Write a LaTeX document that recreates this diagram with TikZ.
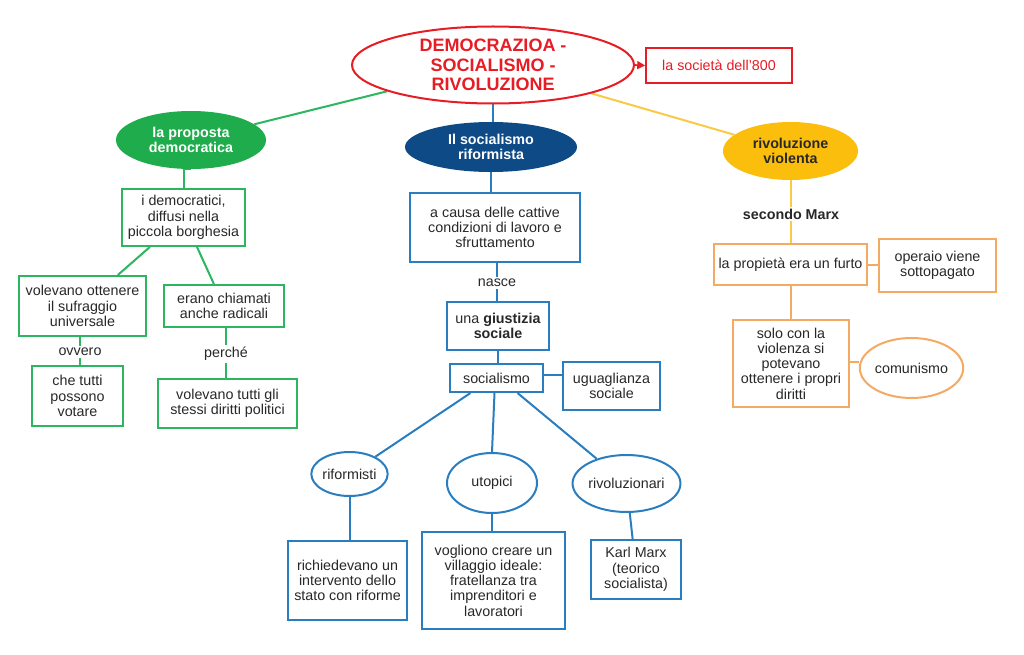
\documentclass[tikz,border=0pt]{standalone}
\usepackage{fontspec}
\setmainfont{Liberation Sans}
\usetikzlibrary{shapes.geometric,arrows.meta}
\definecolor{cred}{RGB}{232,28,36}
\definecolor{cgreenfill}{RGB}{30,172,76}
\definecolor{cgreen}{RGB}{44,182,96}
\definecolor{cnavy}{RGB}{14,74,134}
\definecolor{cblue}{RGB}{42,126,192}
\definecolor{cyellowfill}{RGB}{252,190,12}
\definecolor{cyellow}{RGB}{250,202,70}
\definecolor{corange}{RGB}{245,170,100}
\definecolor{ctext}{RGB}{40,40,40}
\pgfdeclarelayer{bg}
\pgfsetlayers{bg,main}
\begin{document}
\begin{tikzpicture}[x=1pt,y=-1pt,
  every node/.style={inner sep=0pt,align=center,text=ctext,font=\fontsize{14.3}{15.3}\selectfont},
  boxG/.style={draw=cgreen,line width=2pt,fill=white,rectangle},
  boxB/.style={draw=cblue,line width=2pt,fill=white,rectangle},
  boxO/.style={draw=corange,line width=2pt,fill=white,rectangle},
  ellB/.style={draw=cblue,line width=2pt,fill=white,ellipse},
  ellO/.style={draw=corange,line width=2pt,fill=white,ellipse},
  lnG/.style={draw=cgreen,line width=2pt},
  lnB/.style={draw=cblue,line width=2pt},
  lnY/.style={draw=cyellow,line width=2pt},
  lnO/.style={draw=corange,line width=2pt},
  lbl/.style={fill=white,inner sep=2pt},
  bfont/.style={font=\bfseries\fontsize{14.3}{15.3}\selectfont},
  wsize/.style 2 args={minimum width=#1pt,minimum height=#2pt}]
\useasboundingbox (0,0) rectangle (1024,655);

% title
\node[ellipse,draw=cred,line width=2pt,fill=white,wsize={282}{77},text=cred,
  font=\bfseries\fontsize{18}{19.5}\selectfont] (title) at (493,65)
  {DEMOCRAZIOA -\\SOCIALISMO -\\RIVOLUZIONE};
\node[rectangle,draw=cred,line width=1.6pt,fill=white,wsize={146}{35},text=cred] (soc800) at (719,65.5) {la società dell'800};

% left branch
\node[ellipse,fill=cgreenfill,wsize={150}{58},text=white,bfont] (dem) at (191,140) {la proposta\\democratica};
\node[boxG,wsize={123}{57}] (bdem) at (183.5,217.5) {i democratici,\\diffusi nella\\piccola borghesia};
\node[boxG,wsize={127}{60}] (bsuff) at (82.5,306) {volevano ottenere\\il sufraggio\\universale};
\node[boxG,wsize={120}{42}] (brad) at (224,306) {erano chiamati\\anche radicali};
\node[lbl] (lovv) at (80,352) {ovvero};
\node[boxG,wsize={91}{60}] (btutti) at (77.5,396) {che tutti\\possono\\votare};
\node[lbl] (lper) at (226,354) {perché};
\node[boxG,wsize={139}{49}] (bdir) at (227.5,403.5) {volevano tutti gli\\stessi diritti politici};

% middle branch
\node[ellipse,fill=cnavy,wsize={172}{50},text=white,bfont] (socrif) at (491,147) {Il socialismo\\riformista};
\node[boxB,wsize={170}{69}] (bcausa) at (495,227.5) {a causa delle cattive\\condizioni di lavoro e\\sfruttamento};
\node[lbl] (lnasce) at (497,283) {nasce};
\node[boxB,wsize={102}{48}] (bgiust) at (498,326) {una \textbf{giustizia}\\\textbf{sociale}};
\node[boxB,wsize={93}{28}] (bsoc) at (496.5,378) {socialismo};
\node[boxB,wsize={97}{48}] (bugu) at (611.5,386) {uguaglianza\\sociale};
\node[ellB,wsize={75}{44}] (erif) at (349.5,474) {riformisti};
\node[ellB,wsize={90}{60}] (euto) at (492,483) {utopici};
\node[ellB,wsize={91}{57}] (eriv) at (626.5,483.5) {rivoluzionari};
\node[boxB,wsize={119}{79}] (brifo) at (347.5,580.5) {richiedevano un\\intervento dello\\stato con riforme};
\node[boxB,wsize={143}{97}] (bvill) at (493.5,580.5) {vogliono creare un\\villaggio ideale:\\fratellanza tra\\imprenditori e\\lavoratori};
\node[boxB,wsize={90}{59}] (bmarx) at (636,569.5) {Karl Marx\\(teorico\\socialista)};

% right branch
\node[ellipse,fill=cyellowfill,wsize={135}{58},bfont] (yel) at (790.5,151) {rivoluzione\\violenta};
\node[lbl,bfont] (lmarx) at (791,214) {secondo Marx};
\node[boxO,wsize={153}{41}] (bfurto) at (790.5,264.5) {la propietà era un furto};
\node[boxO,wsize={117}{53}] (boper) at (937.5,265.5) {operaio viene\\sottopagato};
\node[boxO,wsize={116}{87}] (bviol) at (791,363.5) {solo con la\\violenza si\\potevano\\ottenere i propri\\diritti};
\node[ellO,wsize={91}{60}] (ecom) at (911.5,368) {comunismo};

\begin{pgfonlayer}{bg}
  \fill[white] (0,0) rectangle (1024,655);
  % title connections
  \draw[cred,line width=1.6pt,-{Triangle[length=8pt,width=8pt]}] (title.east) -- (soc800.west);
  \draw[lnG] (title) -- (dem);
  \draw[lnB] (title.south) -- (title.south |- socrif.north);
  \draw[lnY] (title) -- (yel);
  % left
  \draw[lnG] (dem.south) -- (dem.south -| bdem.north) -- (bdem.north);
  \draw[lnG] (bdem) -- (bsuff);
  \draw[lnG] (bdem) -- (brad);
  \draw[lnG] (bsuff.south -| lovv.north) -- (lovv.north);
  \draw[lnG] (lovv.south) -- (lovv.south |- btutti.north);
  \draw[lnG] (brad.south -| lper.north) -- (lper.north);
  \draw[lnG] (lper.south) -- (lper.south |- bdir.north);
  % middle
  \draw[lnB] (socrif.south) -- (socrif.south |- bcausa.north);
  \draw[lnB] (bcausa.south -| lnasce.north) -- (lnasce.north);
  \draw[lnB] (lnasce.south) -- (lnasce.south |- bgiust.north);
  \draw[lnB] (bgiust.south) -- (bgiust.south |- bsoc.north);
  \draw[lnB] ([yshift=3pt]bsoc.east) -- ([yshift=3pt]bsoc.east -| bugu.west);
  \draw[lnB] ([xshift=-26pt]bsoc.south) -- (erif);
  \draw[lnB] ([xshift=-2pt]bsoc.south) -- (euto.north);
  \draw[lnB] ([xshift=21pt]bsoc.south) -- (eriv);
  \draw[lnB] (erif.south) -- (erif.south |- brifo.north);
  \draw[lnB] (euto.south) -- (euto.south |- bvill.north);
  \draw[lnB] (eriv) -- (bmarx);
  % right
  \draw[lnY] (yel.south) -- (yel.south |- lmarx.north);
  \draw[lnY] (lmarx.south) -- (lmarx.south |- bfurto.north);
  \draw[lnO] (bfurto.east) -- (bfurto.east -| boper.west);
  \draw[lnO] (bfurto.south) -- (bfurto.south |- bviol.north);
  \draw[lnO] ([yshift=2pt]bviol.east) -- ([yshift=2pt]bviol.east -| ecom.west);
\end{pgfonlayer}
\end{tikzpicture}
\end{document}
